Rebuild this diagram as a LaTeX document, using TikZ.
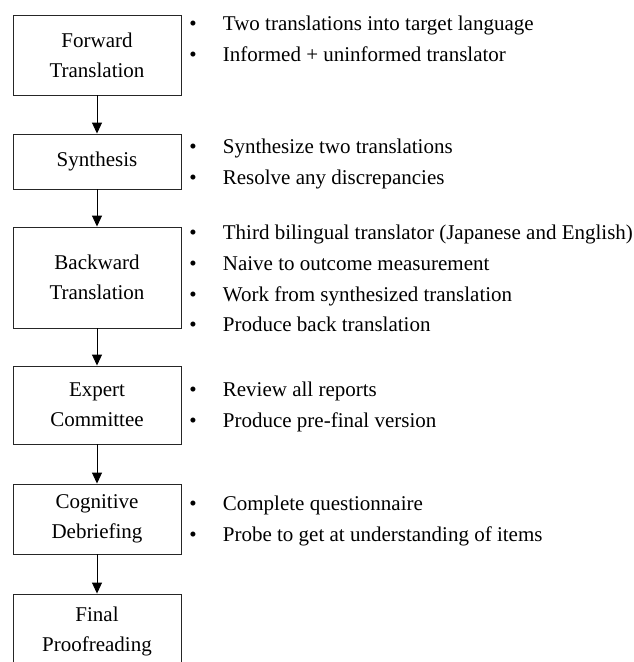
\documentclass[tikz,border=0pt]{standalone}
\usepackage{fontspec}
\setmainfont{Liberation Serif}
\usetikzlibrary{arrows.meta}
\begin{document}
\begin{tikzpicture}[x=1pt,y=-1pt,
  box/.style={draw=black!85,line width=0.9pt,minimum width=168pt,inner sep=0pt,align=center,
    font=\fontsize{21}{30}\selectfont},
  flow/.style={draw=black,line width=0.9pt,-{Triangle[length=11pt,width=10pt]}},
  bul/.style={anchor=base,inner sep=0pt,font=\fontsize{21}{30}\selectfont},
  itm/.style={anchor=base west,inner sep=0pt,font=\fontsize{21}{30}\selectfont}]
\useasboundingbox (0,0) rectangle (633,662);
\clip (0,0) rectangle (633,662);
\node[box,minimum height=80pt]  (fwd) at (97,55)    {Forward\\Translation};
\node[box,minimum height=55pt]  (syn) at (97,161.5) {Synthesis};
\node[box,minimum height=101pt] (bwd) at (97,277.5) {Backward\\Translation};
\node[box,minimum height=78pt]  (exp) at (97,405)   {Expert\\Committee};
\node[box,minimum height=70pt]  (cog) at (97,519)   {Cognitive\\Debriefing};
\node[box,minimum height=74pt]  (fin) at (97,631)   {Final\\Proofreading};
\draw[flow] (fwd) -- (syn);
\draw[flow] (syn) -- (bwd);
\draw[flow] (bwd) -- (exp);
\draw[flow] (exp) -- (cog);
\draw[flow] (cog) -- (fin);
% bullets
\node[bul] (b11) at (193,30.7) {•};
\node[itm] (t11) at (222.7,30.7) {Two translations into target language};
\node[bul] (b12) at (193,61.7) {•};
\node[itm] (t12) at (222.7,61.7) {Informed + uninformed translator};
\node[bul] (b21) at (193,153) {•};
\node[itm] (t21) at (222.7,153) {Synthesize two translations};
\node[bul] (b22) at (193,184) {•};
\node[itm] (t22) at (222.7,184) {Resolve any discrepancies};
\node[bul] (b31) at (193,239.5) {•};
\node[itm] (t31) at (222.7,239.5) {Third bilingual translator (Japanese and English)};
\node[bul] (b32) at (193,270.2) {•};
\node[itm] (t32) at (222.7,270.2) {Naive to outcome measurement};
\node[bul] (b33) at (193,301) {•};
\node[itm] (t33) at (222.7,301) {Work from synthesized translation};
\node[bul] (b34) at (193,331.7) {•};
\node[itm] (t34) at (222.7,331.7) {Produce back translation};
\node[bul] (b41) at (193,396.5) {•};
\node[itm] (t41) at (222.7,396.5) {Review all reports};
\node[bul] (b42) at (193,427.5) {•};
\node[itm] (t42) at (222.7,427.5) {Produce pre-final version};
\node[bul] (b51) at (193,510.7) {•};
\node[itm] (t51) at (222.7,510.7) {Complete questionnaire};
\node[bul] (b52) at (193,541.7) {•};
\node[itm] (t52) at (222.7,541.7) {Probe to get at understanding of items};
\end{tikzpicture}
\end{document}
